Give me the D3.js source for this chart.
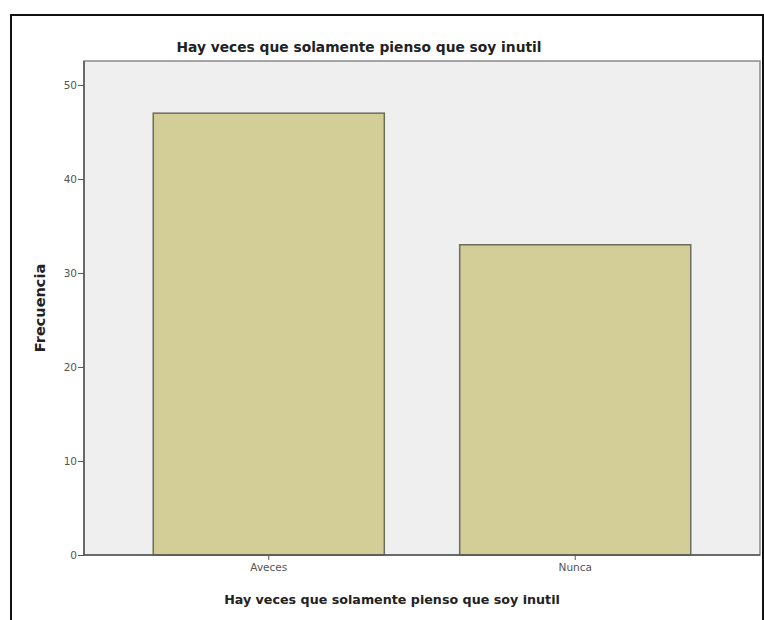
<!DOCTYPE html>
<html>
<head>
<meta charset="utf-8">
<script src="https://cdn.jsdelivr.net/npm/d3@7"></script>
<style>
  body { margin: 0; background: #fff; }
</style>
</head>
<body>
<div id="chart"></div>
<script>
var categories = ['Aveces', 'Nunca']
var counts = [47, 33]
var yTicks = [0, 10, 20, 30, 40, 50]
var chartTitle = 'Hay veces que solamente pienso que soy inutil'
var xTitle = 'Hay veces que solamente pienso que soy inutil'
var yTitle = 'Frecuencia'

var width = 764
var height = 620
var plot = { left: 84, top: 61, right: 760, bottom: 555 }

var svg = d3.select('#chart').append('svg')
    .attr('width', width)
    .attr('height', height)
    .style('font-family', '"DejaVu Sans", Verdana, sans-serif')

// outer frame
svg.append('rect')
    .attr('x', 11).attr('y', 15)
    .attr('width', 752).attr('height', 640)
    .style('fill', 'none')
    .style('stroke', '#111')
    .style('stroke-width', 2)

var xScale = d3.scaleBand()
    .domain(categories)
    .range([plot.left, plot.right])
    .paddingInner(0.246)
    .paddingOuter(0.226)

var yScale = d3.scaleLinear()
    .domain([0, 52.55])
    .range([plot.bottom, plot.top])

// plot background
svg.append('rect')
    .attr('x', plot.left).attr('y', plot.top)
    .attr('width', plot.right - plot.left)
    .attr('height', plot.bottom - plot.top)
    .style('fill', '#efeff0')
    .style('stroke', '#8a8a8a')
    .style('stroke-width', 1.5)

svg.selectAll('rect.bar')
    .data(counts)
    .enter().append('rect')
    .attr('class', 'bar')
    .attr('x', (d, i) => xScale(categories[i]))
    .attr('y', d => yScale(d))
    .attr('width', xScale.bandwidth())
    .attr('height', d => yScale(0) - yScale(d))
    .style('fill', '#d3ce97')
    .style('stroke', '#6e6c5c')
    .style('stroke-width', 1.5)

// axes
var yAxis = svg.append('g')
    .attr('transform', `translate(${plot.left},0)`)
    .call(d3.axisLeft(yScale).tickValues(yTicks).tickSize(6).tickPadding(1))
yAxis.select('.domain').remove()
yAxis.append('line')
    .attr('x1', 0).attr('x2', 0)
    .attr('y1', plot.top).attr('y2', plot.bottom)
    .style('stroke', '#555').style('stroke-width', 1.5)

var xAxis = svg.append('g')
    .attr('transform', `translate(0,${plot.bottom})`)
    .call(d3.axisBottom(xScale).tickSize(5).tickPadding(4))
xAxis.select('.domain').remove()
xAxis.append('line')
    .attr('x1', plot.left).attr('x2', plot.right)
    .attr('y1', 0).attr('y2', 0)
    .style('stroke', '#555').style('stroke-width', 1.5)

svg.selectAll('.tick line').style('stroke', '#555')
svg.selectAll('.tick text')
    .style('font-family', '"DejaVu Sans", Verdana, sans-serif')
    .style('font-size', '10.5px')
    .style('fill', '#555')

// titles
svg.append('text')
    .attr('x', 359).attr('y', 52)
    .attr('text-anchor', 'middle')
    .style('font-size', '13.8px')
    .style('font-weight', 'bold')
    .style('fill', '#222')
    .text(chartTitle)

svg.append('text')
    .attr('x', 392).attr('y', 604)
    .attr('text-anchor', 'middle')
    .style('font-size', '12.7px')
    .style('font-weight', 'bold')
    .style('fill', '#222')
    .text(xTitle)

svg.append('text')
    .attr('transform', 'translate(45,308) rotate(-90)')
    .attr('text-anchor', 'middle')
    .style('font-size', '14.5px')
    .style('font-weight', 'bold')
    .style('fill', '#222')
    .text(yTitle)
</script>
</body>
</html>
